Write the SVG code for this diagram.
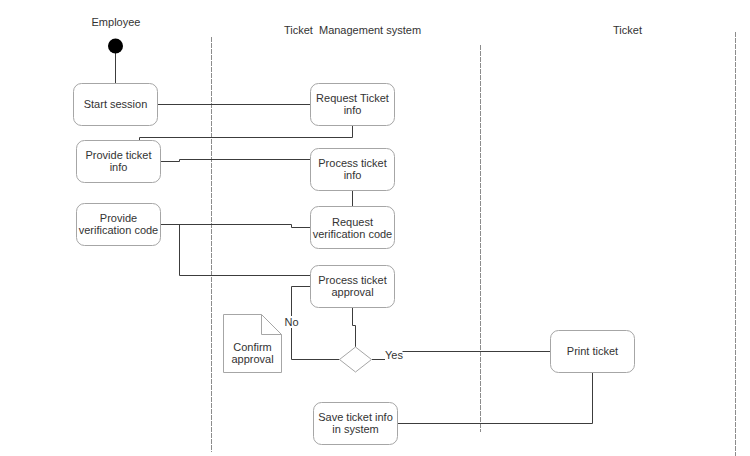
<svg xmlns="http://www.w3.org/2000/svg" width="750" height="456" viewBox="0 0 750 456">
<style>
.lane{stroke:#8c8c8c;stroke-width:1;stroke-dasharray:5 1;fill:none}
.box{fill:#fff;stroke:#a6a6a6;stroke-width:1}
.edge{fill:none;stroke:#3c3c3c;stroke-width:1}
text{font-family:"Liberation Sans",Arial,sans-serif;font-size:11px;fill:#333;text-anchor:middle}
</style>
<rect width="750" height="456" fill="#fff"/>
<g id="lanes">
<line class="lane" x1="211.5" y1="37" x2="211.5" y2="452"/>
<line class="lane" x1="480.5" y1="45" x2="480.5" y2="432"/>
<line class="lane" x1="735.5" y1="32" x2="735.5" y2="456"/>
<text x="116" y="26">Employee</text>
<text x="352.5" y="34" xml:space="preserve">Ticket  Management system</text>
<text x="627.5" y="34">Ticket</text>
</g>
<g id="connectors">
<line class="edge" x1="115.5" y1="53" x2="115.5" y2="84"/>
<line class="edge" x1="157" y1="104.5" x2="311" y2="104.5"/>
<polyline class="edge" points="352.5,126 352.5,137.5 139.5,137.5 139.5,140"/>
<polyline class="edge" points="161,161.5 179.5,161.5 179.5,159.5 311,159.5"/>
<line class="edge" x1="352.5" y1="191" x2="352.5" y2="207"/>
<polyline class="edge" points="161,224.5 291.5,224.5 291.5,227.5 311,227.5"/>
<polyline class="edge" points="179.5,224.5 179.5,275.5 311,275.5"/>
<polyline class="edge" points="339.5,359.5 291.5,359.5 291.5,286.5 311,286.5"/>
<polyline class="edge" points="352.5,307 352.5,325.5 355.5,325.5 355.5,347"/>
<line class="edge" x1="372" y1="359.5" x2="385" y2="359.5"/>
<line class="edge" x1="402.5" y1="351.5" x2="550" y2="351.5"/>
<polyline class="edge" points="592.5,372 592.5,423.5 397,423.5"/>
<rect x="284" y="316" width="15" height="12" fill="#fff"/>
<text x="291.5" y="326">No</text>
<text x="394" y="359">Yes</text>
</g>
<g id="start"><circle cx="115.5" cy="46" r="7.5" fill="#000"/></g>
<g id="start-session"><rect class="box" x="73.5" y="83.5" width="84" height="42" rx="8"/><text x="115.5" y="108">Start session</text></g>
<g id="provide-ticket-info"><rect class="box" x="76.5" y="140.5" width="84" height="42" rx="8"/><text x="118.5" y="159">Provide ticket</text><text x="118.5" y="171">info</text></g>
<g id="provide-verification-code"><rect class="box" x="76.5" y="203.5" width="84" height="42" rx="8"/><text x="118.5" y="222">Provide</text><text x="118.5" y="234">verification code</text></g>
<g id="request-ticket-info"><rect class="box" x="310.5" y="83.5" width="84" height="42" rx="8"/><text x="352.5" y="102">Request Ticket</text><text x="352.5" y="114">info</text></g>
<g id="process-ticket-info"><rect class="box" x="310.5" y="148.5" width="84" height="42" rx="8"/><text x="352.5" y="167">Process ticket</text><text x="352.5" y="179">info</text></g>
<g id="request-verification-code"><rect class="box" x="310.5" y="206.5" width="84" height="42" rx="8"/><text x="352.5" y="226">Request</text><text x="352.5" y="238">verification code</text></g>
<g id="process-ticket-approval"><rect class="box" x="310.5" y="265.5" width="84" height="42" rx="8"/><text x="352.5" y="284">Process ticket</text><text x="352.5" y="296">approval</text></g>
<g id="decision"><polygon class="box" points="355.5,347 371.5,359.5 355.5,372 339.5,359.5"/></g>
<g id="confirm-approval"><path class="box" d="M223.5,314.5 H261.5 L281.5,334.5 V372.5 H223.5 Z"/><path d="M261.5,314.5 V334.5 H281.5" fill="none" stroke="#a6a6a6"/><text x="252.5" y="351">Confirm</text><text x="252.5" y="363">approval</text></g>
<g id="print-ticket"><rect class="box" x="550.5" y="330.5" width="84" height="42" rx="8"/><text x="592.5" y="355">Print ticket</text></g>
<g id="save-ticket-info"><rect class="box" x="313.5" y="402.5" width="84" height="42" rx="8"/><text x="355.5" y="421">Save ticket info</text><text x="355.5" y="433">in system</text></g>
</svg>
